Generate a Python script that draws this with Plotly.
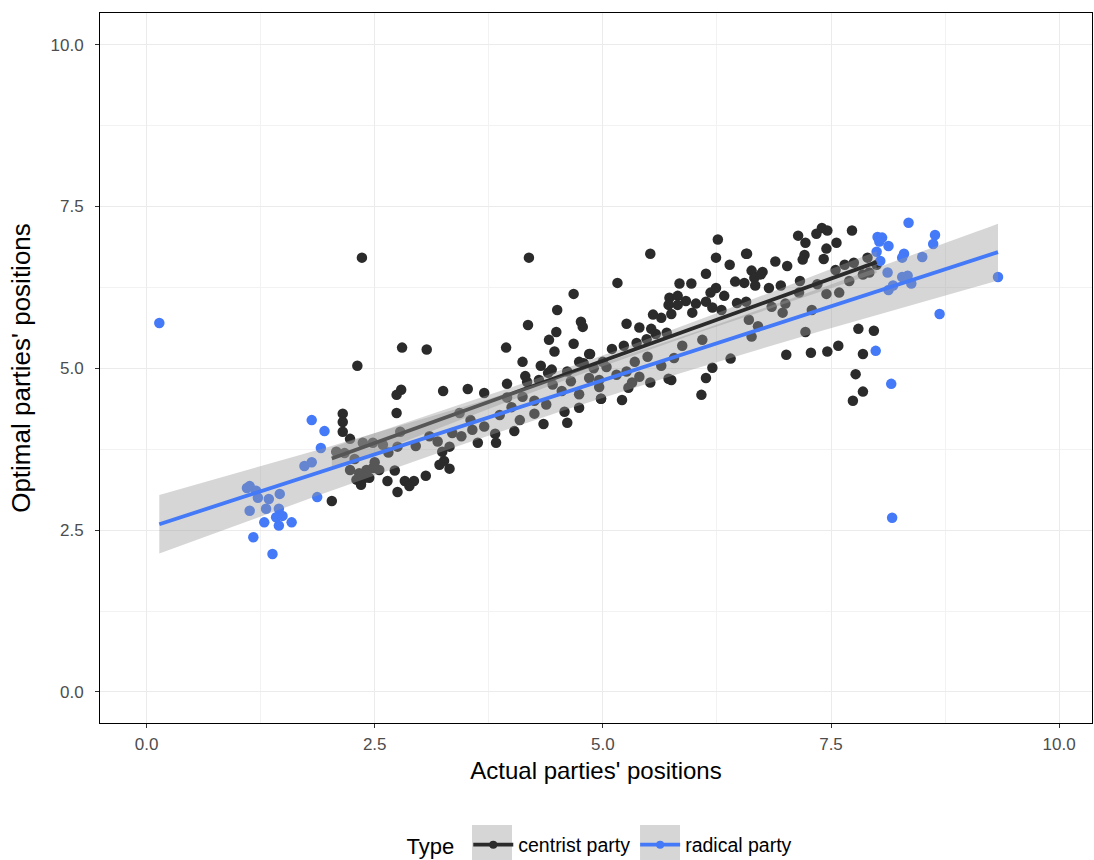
import numpy as np
import plotly.graph_objects as go

# ---------------- data ----------------
centrist_x = [2.36, 2.80, 3.07, 2.31, 2.79, 2.74, 3.25, 2.74, 2.15, 2.15, 2.15, 2.23, 2.08, 2.17, 2.37, 2.48,
              2.59, 2.78, 2.75, 3.19, 3.24, 3.32, 2.23, 2.33, 2.41, 2.48, 2.55, 2.30, 2.35, 2.44, 2.72, 2.64,
              2.75, 2.83, 2.93, 2.88, 3.06, 3.21, 3.26, 3.32, 2.03, 2.38, 2.50, 2.28, 2.65, 2.95, 3.10,
              4.19, 4.68, 4.50, 4.76, 4.78, 4.18, 4.49, 4.41, 4.47, 4.68, 3.94, 4.85, 4.74, 4.79, 4.12, 4.32,
              4.44, 4.40, 4.15, 4.17, 4.61, 3.95, 3.52, 3.70, 4.30, 4.98, 4.74, 4.58, 4.61, 4.35, 4.03, 3.82,
              3.83, 3.63, 4.09, 4.38, 4.74, 3.43, 3.57, 3.87, 4.12, 4.96, 3.45, 3.70, 3.55, 4.00, 4.25, 4.55,
              4.85, 4.25, 3.35, 3.95, 4.45, 4.65,
              6.26, 5.52, 6.57, 6.24, 6.39, 6.63, 6.66, 6.13, 5.16, 6.45, 6.55, 6.67, 5.84, 5.97, 6.24, 6.18,
              6.33, 5.73, 5.82, 5.91, 5.72, 5.82, 6.02, 6.13, 6.20, 6.47, 6.57, 6.30, 5.98, 5.75, 5.55, 5.64,
              5.26, 5.40, 5.53, 5.58, 5.70, 5.37, 5.48, 5.23, 4.86, 6.40, 6.20, 6.13, 5.72, 5.75, 5.52, 5.32,
              5.28, 4.98, 5.21, 6.08, 6.60, 6.63, 6.09, 5.87, 5.78, 5.64, 5.49, 5.40, 5.26, 4.96, 5.04, 5.15,
              5.00, 5.10, 4.90, 5.35,
              7.40, 7.46, 7.73, 7.34, 7.14, 7.22, 7.56, 7.45, 6.58, 7.21, 7.19, 7.42, 6.89, 7.02, 6.75, 6.73,
              7.75, 7.65, 7.90, 7.55, 7.16, 6.82, 6.95, 7.80, 7.97, 7.22, 7.58, 7.46, 7.28, 7.01, 7.85, 7.77,
              7.85, 7.74, 7.59, 7.29, 7.15, 6.97, 7.35, 7.92, 8.00, 7.85, 7.70, 7.00, 6.85, 6.70, 7.45]
centrist_y = [6.71, 5.32, 5.29, 5.04, 4.67, 4.59, 4.65, 4.31, 4.30, 4.17, 4.02, 3.91, 3.71, 3.69, 3.85, 3.85,
              3.82, 4.02, 3.79, 3.87, 3.71, 3.79, 3.43, 3.38, 3.43, 3.46, 3.43, 3.28, 3.20, 3.31, 3.42, 3.26,
              3.09, 3.26, 3.26, 3.18, 3.34, 3.51, 3.57, 3.45, 2.95, 3.30, 3.55, 3.60, 3.70, 3.80, 3.95,
              6.71, 6.15, 5.90, 5.72, 5.64, 5.67, 5.56, 5.44, 5.26, 5.38, 5.32, 5.22, 5.10, 5.08, 5.10, 5.04,
              4.98, 4.93, 4.88, 4.79, 4.95, 4.76, 4.68, 4.62, 4.82, 4.53, 4.39, 4.33, 4.16, 4.14, 4.03, 3.99,
              3.85, 3.85, 4.20, 4.44, 4.60, 4.31, 4.05, 4.28, 4.56, 4.71, 3.95, 4.10, 4.20, 4.40, 4.50, 4.65,
              4.85, 4.30, 4.00, 4.55, 4.75, 4.80,
              6.99, 6.77, 6.77, 6.71, 6.60, 6.51, 6.40, 6.46, 6.32, 6.34, 6.32, 6.28, 6.31, 6.31, 6.24, 6.17,
              6.12, 6.09, 6.12, 6.04, 5.98, 5.98, 6.00, 6.03, 5.94, 6.01, 6.03, 5.90, 5.86, 5.84, 5.83, 5.78,
              5.69, 5.63, 5.61, 5.53, 5.55, 5.39, 5.45, 5.35, 5.22, 5.15, 5.01, 4.85, 4.84, 4.82, 4.78, 4.78,
              4.70, 4.53, 4.51, 4.59, 5.75, 5.49, 5.44, 5.35, 5.16, 5.04, 5.18, 4.87, 4.95, 4.82, 5.02, 4.90,
              5.10, 5.30, 5.00, 5.10,
              7.17, 7.13, 7.13, 7.08, 7.05, 6.94, 6.94, 6.85, 6.77, 6.75, 6.68, 6.69, 6.65, 6.58, 6.49, 6.45,
              6.63, 6.60, 6.71, 6.52, 6.35, 6.24, 6.28, 5.61, 5.58, 5.56, 5.35, 5.26, 5.24, 5.21, 5.22, 4.91,
              4.64, 4.50, 6.17, 5.90, 6.17, 5.86, 6.30, 6.48, 6.60, 6.45, 6.35, 6.00, 5.95, 5.65, 6.15]

radical_x = [0.14, 1.81, 1.95, 1.91, 1.73, 1.81, 1.87, 1.13, 1.10, 1.20, 1.22, 1.34, 1.46, 1.13, 1.31, 1.45,
             1.42, 1.49, 1.29, 1.45, 1.59, 1.17, 1.38,
             8.35, 8.01, 8.06, 8.03, 8.13, 8.64, 8.62, 8.00, 8.04, 8.30, 8.28, 8.50, 8.12, 8.28, 8.34, 8.38,
             8.13, 8.18, 9.33, 8.69, 7.99, 8.16, 8.17]
radical_y = [5.70, 4.20, 4.03, 3.77, 3.49, 3.55, 3.01, 3.18, 3.15, 3.11, 3.00, 2.98, 3.06, 2.80, 2.83, 2.83,
             2.70, 2.72, 2.62, 2.57, 2.62, 2.39, 2.13,
             7.25, 7.03, 7.02, 6.96, 6.89, 7.06, 6.92, 6.80, 6.66, 6.77, 6.71, 6.72, 6.48, 6.41, 6.43, 6.31,
             6.21, 6.28, 6.41, 5.84, 5.27, 4.76, 2.69]

type_names = ["centrist party", "radical party"]
type_colors = ["#2B2B2B", "#4479F7"]
tick_vals = [0, 2.5, 5, 7.5, 10]
tick_text = ["0.0", "2.5", "5.0", "7.5", "10.0"]


def lm_band(x, y, n=80):
    x = np.asarray(x, float)
    y = np.asarray(y, float)
    b, a = np.polyfit(x, y, 1)
    resid = y - (a + b * x)
    dof = len(x) - 2
    s = np.sqrt(np.sum(resid ** 2) / dof)
    xbar = x.mean()
    sxx = np.sum((x - xbar) ** 2)
    z = 1.959964
    t = z + (z ** 3 + z) / (4 * dof) + (5 * z ** 5 + 16 * z ** 3 + 3 * z) / (96 * dof ** 2)
    xs = np.linspace(x.min(), x.max(), n)
    fit = a + b * xs
    se = s * np.sqrt(1.0 / len(x) + (xs - xbar) ** 2 / sxx)
    return xs, fit, fit - t * se, fit + t * se


fig = go.Figure()
groups = [(centrist_x, centrist_y), (radical_x, radical_y)]

for (gx, gy), name, col in zip(groups, type_names, type_colors):
    fig.add_trace(go.Scatter(x=gx, y=gy, mode="markers", showlegend=False, hoverinfo="skip",
                             marker=dict(color=col, size=10.5, line=dict(width=0))))

for (gx, gy), name, col in zip(groups, type_names, type_colors):
    xs, fit, lo, hi = lm_band(gx, gy)
    fig.add_trace(go.Scatter(x=np.concatenate([xs, xs[::-1]]), y=np.concatenate([hi, lo[::-1]]),
                             mode="lines", fill="toself", fillcolor="rgba(153,153,153,0.4)",
                             line=dict(width=0), showlegend=False, hoverinfo="skip"))
    fig.add_trace(go.Scatter(x=xs, y=fit, mode="lines", line=dict(color=col, width=3.8),
                             showlegend=False, hoverinfo="skip"))

for name, col in zip(type_names, type_colors):
    fig.add_trace(go.Scatter(x=[None], y=[None], mode="lines+markers", name=name,
                             line=dict(color=col, width=3.8), marker=dict(color=col, size=8)))

axis_common = dict(
    tickvals=tick_vals, ticktext=tick_text, showgrid=True, gridcolor="#EBEBEB", gridwidth=1.2,
    zeroline=False, showline=True, linecolor="black", linewidth=1, mirror=True, automargin=False,
    ticks="outside", ticklen=4, tickwidth=1, tickcolor="#333333",
    tickfont=dict(family="Liberation Sans, Arial, sans-serif", size=17, color="#4D4D4D"),
    minor=dict(dtick=1.25, tick0=1.25, showgrid=True, gridcolor="#F2F2F2", gridwidth=0.8, ticks=""),
)

# grey key backgrounds behind the legend symbols (as in ggplot legends)
key_boxes = [dict(type="rect", xref="paper", yref="paper", x0=x0, x1=x0 + 0.0403, y0=-0.2, y1=-0.1437,
                  fillcolor="#D6D6D6", line=dict(width=0), layer="below")
             for x0 in (0.375, 0.5444)]

fig.update_layout(
    width=1094, height=860,
    margin=dict(l=100, r=2, t=13, b=137),
    paper_bgcolor="white", plot_bgcolor="white",
    font=dict(family="Liberation Sans, Arial, sans-serif", color="black"),
    xaxis=dict(range=[-0.51, 10.36], ticklabelstandoff=2,
               title=dict(text="Actual parties' positions", font=dict(size=24), standoff=8),
               **axis_common),
    yaxis=dict(range=[-0.48, 10.49], ticklabelstandoff=8,
               title=dict(text="Optimal parties' positions", font=dict(size=26), standoff=12),
               **axis_common),
    legend=dict(orientation="h", x=0.505, xanchor="center", xref="paper",
                y=0.0174, yanchor="middle", yref="container",
                title=dict(text="Type ", font=dict(size=22)), font=dict(size=19.5),
                itemwidth=40, bgcolor="rgba(0,0,0,0)"),
    shapes=key_boxes,
)

fig.write_html("out.html")
